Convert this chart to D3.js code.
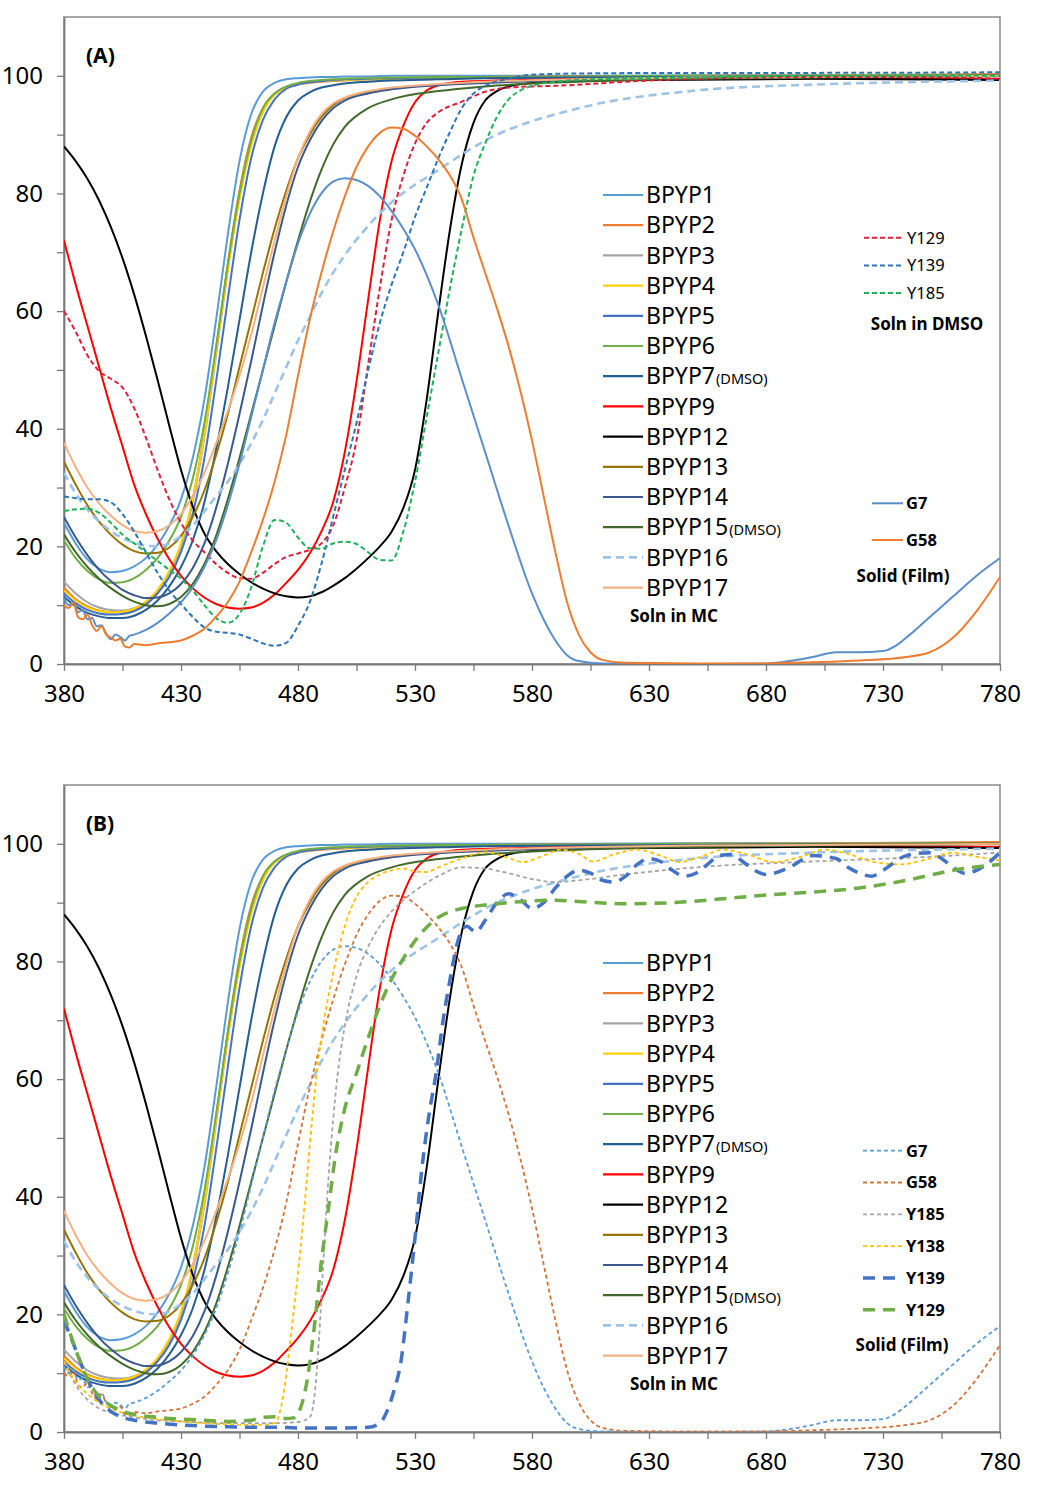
<!DOCTYPE html>
<html><head><meta charset="utf-8">
<script src="https://cdn.jsdelivr.net/npm/d3@7"></script>
<style>body{margin:0;background:#fff}svg{display:block}text{font-family:'Noto Sans',sans-serif;fill:#000}</style>
</head><body><svg id="c" width="1048" height="1497"></svg>
<script>
// ---------- DATA ----------
const xTicks = [380,430,480,530,580,630,680,730,780];
const yTicks = [0,20,40,60,80,100];

const wlS = [380,385,390,395,400,405,410,415,420,425,430,435,440,445,450,455,460,465,470,475,480,485,490,495,500,510,520,540,560,600,650,700,750,780];
const bpyp1  = [24,20.5,17.8,16.2,15.6,15.8,16.6,18,20.3,23.5,28,35,45,58.5,73,85.5,93.5,97.3,98.8,99.4,99.6,99.7,99.8,99.8,99.9,99.9,100,100,100,100,100.1,100.1,100.2,100.2];
const bpyp2  = [13,11,9.8,9.1,8.8,8.8,9.2,10.3,12.3,15.5,20,28,39.5,53.5,68,80.5,89.5,94.5,97,98,98.5,98.8,99,99.1,99.2,99.4,99.5,99.7,99.8,99.9,100,100.1,100.2,100.3];
const bpyp3  = [14,12,10.5,9.6,9.2,9.1,9.5,10.5,12.5,15.5,20,27.5,38.5,52.5,67,79.5,88.5,94,96.8,98,98.6,98.9,99.1,99.2,99.3,99.4,99.5,99.6,99.7,99.8,99.9,100,100,100.1];
const bpyp4  = [12.5,10.8,9.6,9,8.8,8.9,9.4,10.6,12.6,15.8,20.5,28,39,53,67,79,88,93.8,96.8,98,98.6,98.9,99.1,99.2,99.3,99.4,99.5,99.6,99.7,99.8,99.8,99.9,100,100];
const bpyp5  = [12,10.3,9.2,8.6,8.4,8.5,9,10.1,12,14.8,19,25.5,35,48,62,75.5,86,92.5,96,97.8,98.5,98.9,99.1,99.3,99.4,99.5,99.6,99.7,99.7,99.8,99.9,99.9,100,100];
const bpyp6  = [21,18,15.8,14.4,13.8,13.9,14.6,16,18,21,25,31.5,41,54,68,80,89,94.5,97,98.2,98.8,99.1,99.3,99.4,99.5,99.6,99.7,99.8,99.8,99.9,100,100,100.1,100.1];
const bpyp7  = [11.4,9.8,8.7,8.1,7.8,7.8,8.2,9.2,10.8,13.2,16.5,21,27.5,36.5,47,58.5,70,80,88,93,95.8,97.2,98,98.4,98.7,99,99.2,99.4,99.6,99.7,99.8,99.9,99.9,100];
const bpyp13 = [34.4,30.5,27,24.2,22,20.3,19.2,18.8,18.9,19.8,21.8,25,29.5,35.5,42.5,50.5,58.5,66.5,74,80.5,86,90,93,95,96.2,97.3,97.9,98.5,98.9,99.3,99.6,99.8,100,100.1];
const bpyp14 = [25,21.5,18.5,16,14.1,12.6,11.7,11.2,11.3,12,13.6,16.3,20.5,26.5,34,42.5,51.5,61,70,78,84.5,89,92.3,94.5,95.8,97,97.7,98.4,98.8,99.3,99.6,99.8,99.9,100];
const bpyp15 = [22,19,16.5,14.5,12.9,11.6,10.6,10,9.8,10.2,11.4,13.6,17,21.8,28,35,42.5,50,57.5,65,72,78.5,84,88.3,91.3,94.5,96,97.4,98.2,99,99.5,99.7,99.9,100];
const bpyp16 = [32.5,29,26.3,24.2,22.6,21.4,20.6,20.1,20,20.5,21.8,23.5,26,28.5,31,34,37.5,41.5,46,50.5,55,59,63,66.5,69.5,74.5,78.5,84,89,94.5,97.5,98.5,99,99.2];
const bpyp17 = [37.6,33.5,30,27.3,25.2,23.6,22.6,22.3,22.6,23.6,25.5,28.5,32.5,37.5,43,49,56,64,72,79.5,86,90.5,93.5,95.3,96.3,97.4,98,98.6,99,99.4,99.7,99.8,99.9,100];

const wl9   = [380,385,390,395,400,405,410,415,420,425,430,435,440,445,450,455,460,465,470,475,480,485,490,495,500,505,510,515,520,525,530,535,540,550,600,700,780];
const bpyp9 = [72,64.5,57.5,50.5,43.5,37,30.5,25.5,21.3,17.8,15,12.9,11.3,10.2,9.6,9.4,9.6,10.4,11.8,13.8,16,18.8,22.5,27.5,36,48,62,75.5,85.5,91.5,95.5,97.5,98.4,99,99.4,99.6,99.5];

const wl12   = [380,385,390,395,400,405,410,415,420,425,430,435,440,445,450,455,460,465,470,475,480,485,490,495,500,505,510,515,520,525,530,535,540,545,550,555,560,565,570,580,600,700,780];
const bpyp12 = [88,85.5,82.5,78.8,74.3,69,62.8,55.8,48.3,40.5,33,26.8,22.2,19.2,17,15.3,13.9,12.8,12,11.5,11.3,11.5,12.2,13.3,14.6,16.2,18,20,22.5,26.5,33,45,60,74,85,92,95.8,97.4,98.2,98.8,99.2,99.5,99.3];

// Panel A: solutions in DMSO
const wlY129a = [380,385,390,395,400,405,410,415,420,425,430,435,440,445,450,455,460,465,470,475,480,485,490,495,500,505,510,515,520,525,530,535,540,550,560,570,580,590,600,620,650,700,750,780];
const y129a   = [60,56.5,52.5,49.8,48.5,47,43.5,38.5,33,28,24,21,19,17,15.5,14.6,14.5,15.5,17,18.2,18.8,19.4,20.5,23.5,30,38,51,64,75.5,83,88.5,92,93.8,95.6,97.3,98,98.2,98.3,98.5,99,99.5,99.8,99.8,99.5];
const wlY139a = [380,385,390,395,400,405,410,415,420,425,430,435,440,445,450,455,460,465,470,475,480,485,490,495,500,505,510,515,520,525,530,535,540,545,550,555,560,570,580,600,650,700,780];
const y139a   = [28.5,28.2,28,28,27.5,25.5,22.5,19,15.5,12.5,10.2,8,6.2,5.5,5.3,5,4.3,3.5,3.1,3.6,6.5,10.5,17,25,33,41,50,58,64.5,70,76,81,86,90.5,94.5,97,98.3,99.5,100.2,100.4,100.5,100.5,100.6];
const wlY185a = [380,385,390,395,400,405,410,415,420,425,430,435,440,445,450,455,460,465,470,475,480,485,490,495,500,505,510,515,520,525,530,535,540,545,550,555,560,565,570,575,580,590,600,650,700,780];
const y185a   = [26,26.3,26.4,25.7,24,22,20.5,19,17.5,16,14.5,12.5,10,7.8,7,8.5,13,20,24.5,24,21.5,19.7,19.6,20.5,20.8,20.4,19,17.7,17.6,22.5,31,42,53,64,74,83,88.5,93,96,97.5,98.3,99,99.3,99.7,100,100];

// Films
const wlG7 = [380,382,384,386,388,390,392,394,396,398,400,402,404,406,408,410,415,420,425,430,435,440,445,450,455,460,465,470,475,480,485,490,495,500,505,510,515,520,525,530,540,550,560,570,580,590,595,600,610,650,680,690,700,710,720,730,735,740,750,760,770,780];
const g7   = [11.2,10,10.6,8.8,9.2,7.6,7.8,6.4,6.6,5.2,4.2,5,4.6,4,4.8,5,5.8,7,8.6,10.5,13,16.5,21,27,34,42,50,58,65,71.5,76.5,80,82,82.6,82.3,81.3,79.5,77,74,70.5,61,48.5,36,23.5,12,4,1.5,0.5,0.1,0,0.1,0.5,1.2,2,2,2.2,3,4.5,8,11.5,15,18];
const wlG58 = [380,382,384,386,388,390,392,394,396,398,400,402,404,406,408,410,415,420,425,430,435,440,445,450,455,460,465,470,475,480,485,490,495,500,505,510,515,520,525,530,535,540,545,550,555,560,565,570,575,580,585,590,595,600,605,610,620,650,680,700,720,740,750,760,770,780];
const g58   = [10,9.5,10.4,8,7.6,8.4,6.6,5.6,6.4,5,4.5,4,4.3,3,2.8,3.4,3.2,3.5,3.7,4,4.8,6,8,10.5,14,19,24.5,31,39,49,58.5,66.5,73.5,79.5,84.5,88,90.3,91.2,91,89.8,88,85.8,83,79,72.5,66.5,60.5,54,46.5,38,28.5,19,10.5,5,2,0.7,0.2,0.1,0.1,0.3,0.6,1.2,2,4.5,9,14.8];

// Panel B films
const wlY185b = [380,385,390,395,400,410,420,430,440,450,460,470,480,485,487,489,491,493,495,497,500,505,510,515,520,530,540,550,560,570,580,590,600,620,650,700,750,780];
const y185b   = [12,8,5.5,4,3.3,2.5,2,1.8,1.6,1.5,1.5,1.5,1.7,2.5,6,16,30,43,53,61,69,77.5,82.5,86,88.5,92,94.5,96,95.8,95,94,93.5,93.8,94.8,96,97,97.8,98.5];
const wlY138b = [380,385,390,395,400,405,410,420,430,440,450,460,465,470,472,474,476,478,480,482,484,486,488,490,495,500,505,510,515,520,525,530,535,540,550,560,570,576,585,592,600,606,615,625,635,643,652,662,672,683,695,705,715,725,737,750,760,770,780];
const y138b   = [12,8.5,6.5,5,4,3.3,2.8,2.2,1.8,1.5,1.3,1.2,1.2,1.5,3,7,13,20,27,35,44,53,61,67,78,86,91,93.5,94.8,95.5,95.8,95.3,95.2,96,97.5,98.6,97.6,96.9,98,99,98.3,97,98.2,99,98,96.9,97.8,99,98.2,96.9,97.8,99,98.3,97,96.5,97.5,98.5,97.8,97.2];
const wlY139b = [380,385,390,395,400,405,410,420,430,440,450,460,470,480,490,500,510,515,518,521,524,527,530,533,536,539,542,545,548,552,556,560,565,570,575,580,585,590,595,600,605,610,615,620,625,630,635,640,645,650,655,660,665,670,675,680,690,700,710,715,720,725,730,740,750,755,760,765,770,780];
const y139b   = [19,14,9,5.5,3.5,2.5,2,1.5,1.2,1,0.9,0.8,0.8,0.7,0.7,0.7,0.8,1.5,3.5,7,12,22,33,45,54,61,70,77,83,86,85,87,90,91.5,90.5,89,90,92.5,94.5,95.5,95,93.8,93.5,94.5,96.5,97.5,97,95.5,94.5,95,96.5,98,98.2,97,95.5,94.8,96,98,97.5,96,95,94.5,95.5,98,98.5,97.5,96,95,95.5,98.5];
const wlY129b = [380,385,390,395,400,405,410,420,430,440,450,460,465,470,475,478,481,484,487,490,493,496,500,505,510,515,520,525,530,540,550,560,570,580,590,600,620,640,660,680,700,720,740,760,780];
const y129b   = [20,14,9,6,4.5,3.5,3,2.5,2.2,2,1.8,2,2.5,2.6,2.3,2.4,4,9,18,29,38,47,55,61,67,72.5,77,80.5,83.5,87.5,89,89.6,90,90.3,90.4,90.2,89.8,90,90.6,91.3,91.8,92.5,93.8,95.5,96.5];

// ---------- SERIES ----------
const zip = (w, v) => w.map((d, i) => [d, v[i]]);
const mc = [
  {name:'BPYP1', wl:wlS, v:bpyp1, c:'#5B9BD5'},
  {name:'BPYP2', wl:wlS, v:bpyp2, c:'#ED7D31'},
  {name:'BPYP3', wl:wlS, v:bpyp3, c:'#A5A5A5'},
  {name:'BPYP4', wl:wlS, v:bpyp4, c:'#FFD200'},
  {name:'BPYP5', wl:wlS, v:bpyp5, c:'#4472C4'},
  {name:'BPYP6', wl:wlS, v:bpyp6, c:'#70AD47'},
  {name:'BPYP7', sub:'(DMSO)', wl:wlS, v:bpyp7, c:'#255E91'},
  {name:'BPYP9', wl:wl9, v:bpyp9, c:'#FF0000'},
  {name:'BPYP12', wl:wl12, v:bpyp12, c:'#000000'},
  {name:'BPYP13', wl:wlS, v:bpyp13, c:'#997300'},
  {name:'BPYP14', wl:wlS, v:bpyp14, c:'#3A5A8C'},
  {name:'BPYP15', sub:'(DMSO)', wl:wlS, v:bpyp15, c:'#43682B'},
  {name:'BPYP16', wl:wlS, v:bpyp16, c:'#9DC3E6', dash:'8,5', w:2.6},
  {name:'BPYP17', wl:wlS, v:bpyp17, c:'#F4B183'}
];
const dmsoA = [
  {name:'Y129', wl:wlY129a, v:y129a, c:'#E0203A', dash:'5,3'},
  {name:'Y139', wl:wlY139a, v:y139a, c:'#2E75B6', dash:'5,3'},
  {name:'Y185', wl:wlY185a, v:y185a, c:'#1FB25A', dash:'5,3'}
];
const filmA = [
  {name:'G7', wl:wlG7, v:g7, c:'#5B8FC9'},
  {name:'G58', wl:wlG58, v:g58, c:'#ED7D31'}
];
const filmB = [
  {name:'G7', wl:wlG7, v:g7, c:'#5B9BD5', dash:'4,3', w:1.8},
  {name:'G58', wl:wlG58, v:g58, c:'#D2733A', dash:'4,3', w:1.8},
  {name:'Y185', wl:wlY185b, v:y185b, c:'#A5A5A5', dash:'4,3', w:1.8},
  {name:'Y138', wl:wlY138b, v:y138b, c:'#FFC000', dash:'4,3', w:1.8},
  {name:'Y139', wl:wlY139b, v:y139b, c:'#4472C4', dash:'12,8', w:3.5},
  {name:'Y129', wl:wlY129b, v:y129b, c:'#70AD47', dash:'12,8', w:3.5}
];

// ---------- DRAW ----------
const svg = d3.select('#c');
const X0 = 64, X1 = 1000;
const x = d3.scaleLinear().domain([380, 780]).range([X0, X1]);

function panel(top, bottom, label, series, idx, rightLegends) {
  const y = d3.scaleLinear().domain([0, 110]).range([bottom, top]);
  const g = svg.append('g');
  const cid = 'clip' + idx;
  svg.append('clipPath').attr('id', cid).append('rect')
    .attr('x', X0).attr('y', top).attr('width', X1 - X0).attr('height', bottom - top);
  g.append('rect').attr('x', X0).attr('y', top).attr('width', X1 - X0).attr('height', bottom - top)
    .attr('fill', 'none').attr('stroke', '#8a8a8a').attr('stroke-width', 1.5);
  const ax = d3.axisLeft(y).tickValues(d3.range(0, 101, 10)).tickSize(7).tickSizeOuter(0).tickPadding(14)
    .tickFormat(d => yTicks.includes(d) ? d : '');
  const ay = g.append('g').attr('transform', `translate(${X0},0)`).call(ax);
  const bx = d3.axisBottom(x).tickValues(d3.range(380, 781, 25)).tickSize(7).tickSizeOuter(0).tickPadding(14)
    .tickFormat(d => xTicks.includes(d) ? d : '');
  const by = g.append('g').attr('transform', `translate(0,${bottom})`).call(bx);
  [ay, by].forEach(a => {
    a.select('.domain').attr('stroke', '#7a7a7a').attr('stroke-width', 1.8);
    a.selectAll('.tick line').attr('stroke', '#7a7a7a').attr('stroke-width', 1.3);
    a.selectAll('text').attr('font-size', 24).attr('font-family', "'Noto Sans',sans-serif").attr('fill', '#111');
  });
  const line = d3.line().x(d => x(d[0])).y(d => y(d[1])).curve(d3.curveMonotoneX);
  const lg = g.append('g').attr('clip-path', `url(#${cid})`);
  series.forEach(s => {
    lg.append('path').attr('d', line(zip(s.wl, s.v))).attr('fill', 'none')
      .attr('stroke', s.c).attr('stroke-width', s.w || 2)
      .attr('stroke-dasharray', s.dash || null).attr('stroke-linejoin', 'round');
  });
  g.append('text').attr('x', 86).attr('y', top + 46).attr('font-size', 21).attr('font-weight', 'bold').text(label);
  mc.forEach((s, i) => {
    const yy = top + 178 + i * 30.2;
    g.append('line').attr('x1', 603).attr('x2', 643).attr('y1', yy).attr('y2', yy)
      .attr('stroke', s.c).attr('stroke-width', s.w || 2.2).attr('stroke-dasharray', s.dash || null);
    const t = g.append('text').attr('x', 646).attr('y', yy).attr('dy', '0.36em').attr('font-size', 23).text(s.name);
    if (s.sub) t.append('tspan').attr('font-size', 14.5).attr('dy', '-0.05em').attr('dx', 1).text(s.sub);
  });
  g.append('text').attr('x', 674).attr('y', top + 599).attr('dy', '0.35em').attr('text-anchor', 'middle')
    .attr('font-size', 17).attr('font-weight', 'bold').text('Soln in MC');
  rightLegends.forEach(L => {
    L.items.forEach((s, i) => {
      const yy = top + L.y0 + i * L.dy;
      g.append('line').attr('x1', L.x1).attr('x2', L.x2).attr('y1', yy).attr('y2', yy)
        .attr('stroke', s.c).attr('stroke-width', s.w ? Math.min(s.w, 3.5) : 2).attr('stroke-dasharray', s.dash || null);
      g.append('text').attr('x', L.x2 + 3).attr('y', yy).attr('dy', '0.36em').attr('font-size', 16.5)
        .attr('font-weight', L.bold ? 'bold' : 'normal').text(s.name);
    });
    g.append('text').attr('x', L.tx).attr('y', top + L.ty).attr('dy', '0.35em').attr('text-anchor', 'middle')
      .attr('font-size', 17).attr('font-weight', 'bold').text(L.title);
  });
}

panel(17, 664, '(A)', [...mc, ...dmsoA, ...filmA], 0, [
  {items: dmsoA, y0: 220.7, dy: 27.7, x1: 864, x2: 904, bold: false, title: 'Soln in DMSO', tx: 927, ty: 307},
  {items: filmA, y0: 486.3, dy: 36.7, x1: 872, x2: 903, bold: true, title: 'Solid (Film)', tx: 903, ty: 559}
]);
panel(785, 1432, '(B)', [...mc, ...filmB], 1, [
  {items: filmB, y0: 365.7, dy: 31.8, x1: 863, x2: 903, bold: true, title: 'Solid (Film)', tx: 902, ty: 560}
]);
</script></body></html>
